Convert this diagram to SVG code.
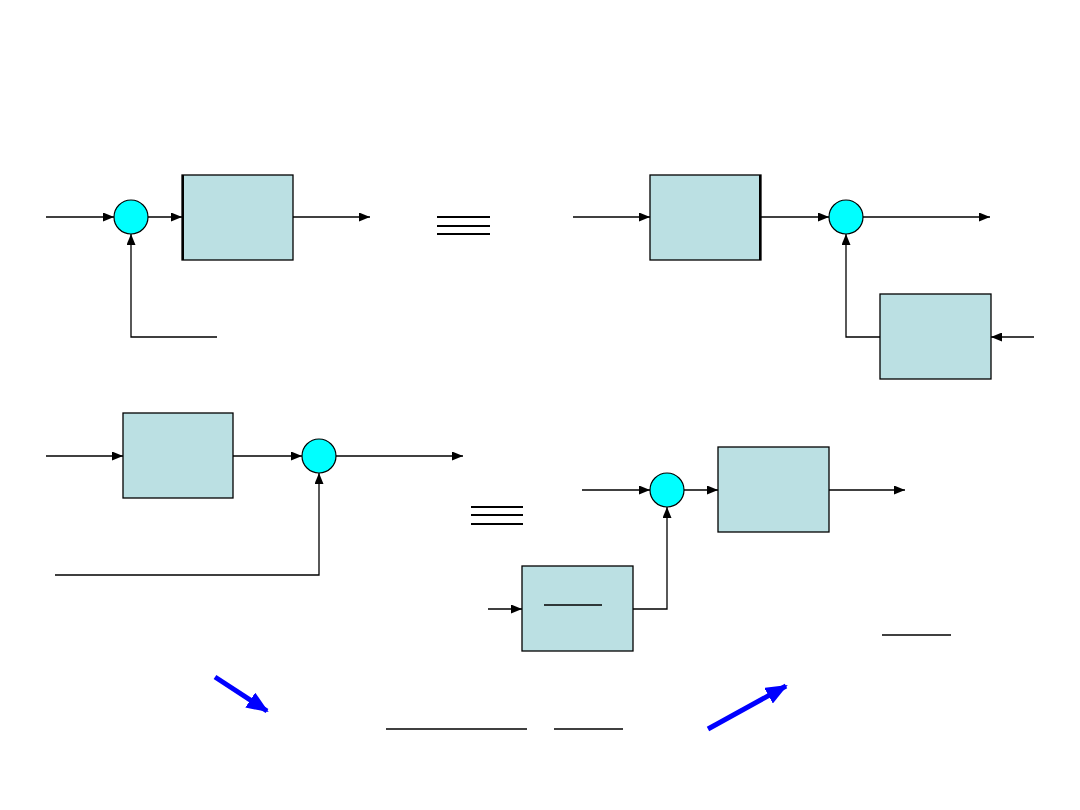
<svg xmlns="http://www.w3.org/2000/svg" width="1080" height="810" viewBox="0 0 1080 810">
<style>
.box{fill:#BBE0E3;stroke:#000;stroke-width:1.3}
.sum{fill:#00FFFF;stroke:#000;stroke-width:1.2}
.w{fill:none;stroke:#000;stroke-width:1.3}
.eq{stroke:#000;stroke-width:2}
.frac{stroke:#000;stroke-width:1.5}
.blue{fill:none;stroke:#0000FF;stroke-width:5}
</style>
<defs>
<marker id="ah" markerUnits="userSpaceOnUse" markerWidth="11" markerHeight="9" refX="11" refY="4.5" orient="auto">
<path d="M0,0 L11,4.5 L0,9 Z" fill="#000"/>
</marker>
<marker id="bh" markerUnits="userSpaceOnUse" markerWidth="22" markerHeight="18" refX="20" refY="9" orient="auto">
<path d="M0,0 L22,9 L0,18 Z" fill="#0000FF"/>
</marker>
</defs>
<rect width="1080" height="810" fill="#fff"/>
<g id="connectors">
<line class="w" x1="46" y1="217" x2="114" y2="217" marker-end="url(#ah)"/>
<line class="w" x1="148" y1="217" x2="182" y2="217" marker-end="url(#ah)"/>
<line class="w" x1="293" y1="217" x2="370" y2="217" marker-end="url(#ah)"/>
<polyline class="w" points="217,337 131,337 131,234" stroke="#333" marker-end="url(#ah)"/>
<line class="w" x1="573" y1="217" x2="650" y2="217" marker-end="url(#ah)"/>
<line class="w" x1="761" y1="217" x2="829" y2="217" stroke="#333" marker-end="url(#ah)"/>
<line class="w" x1="863" y1="217" x2="990" y2="217" marker-end="url(#ah)"/>
<polyline class="w" points="880,337 846,337 846,234" stroke="#222" marker-end="url(#ah)"/>
<line class="w" x1="1034" y1="337" x2="991" y2="337" marker-end="url(#ah)"/>
<line class="w" x1="46" y1="456" x2="123" y2="456" marker-end="url(#ah)"/>
<line class="w" x1="233" y1="456" x2="302" y2="456" stroke="#333" marker-end="url(#ah)"/>
<line class="w" x1="336" y1="456" x2="463" y2="456" stroke-width="2" marker-end="url(#ah)"/>
<polyline class="w" points="55,575 319,575 319,473" stroke="#333" marker-end="url(#ah)"/>
<line class="w" x1="582" y1="490" x2="650" y2="490" stroke="#333" marker-end="url(#ah)"/>
<line class="w" x1="684" y1="490" x2="718" y2="490" marker-end="url(#ah)"/>
<line class="w" x1="829" y1="490" x2="905" y2="490" marker-end="url(#ah)"/>
<line class="w" x1="488" y1="609" x2="522" y2="609" marker-end="url(#ah)"/>
<polyline class="w" points="633,609 667,609 667,507" marker-end="url(#ah)"/>
</g>
<g id="sum1"><circle class="sum" cx="131" cy="217" r="17"/></g>
<g id="box1"><rect class="box" x="182" y="175" width="111" height="85"/><line x1="183" y1="175" x2="183" y2="260" stroke="#000" stroke-width="2"/></g>
<g id="equiv1">
<line class="eq" x1="437" y1="217" x2="490" y2="217"/>
<line class="eq" x1="437" y1="226" x2="490" y2="226" stroke-width="1.5"/>
<line class="eq" x1="437" y1="234" x2="490" y2="234"/>
</g>
<g id="box2"><rect class="box" x="650" y="175" width="111" height="85"/><line x1="760" y1="175" x2="760" y2="260" stroke="#000" stroke-width="2"/></g>
<g id="sum2"><circle class="sum" cx="846" cy="217" r="17"/></g>
<g id="box3"><rect class="box" x="880" y="294" width="111" height="85"/></g>
<g id="box4"><rect class="box" x="123" y="413" width="110" height="85"/></g>
<g id="sum3"><circle class="sum" cx="319" cy="456" r="17"/></g>
<g id="equiv2">
<line class="eq" x1="471" y1="507" x2="523" y2="507"/>
<line class="eq" x1="471" y1="515" x2="523" y2="515" stroke-width="1.5"/>
<line class="eq" x1="471" y1="524" x2="523" y2="524"/>
</g>
<g id="sum4"><circle class="sum" cx="667" cy="490" r="17"/></g>
<g id="box5"><rect class="box" x="718" y="447" width="111" height="85"/></g>
<g id="box6"><rect class="box" x="522" y="566" width="111" height="85"/>
<line class="frac" x1="544" y1="605" x2="602" y2="605"/></g>
<g id="fractions">
<line class="frac" x1="882" y1="635" x2="951" y2="635"/>
<line class="frac" x1="386" y1="729" x2="527" y2="729"/>
<line class="frac" x1="554" y1="729" x2="623" y2="729"/>
</g>
<g id="blue-arrows">
<line class="blue" x1="215" y1="677" x2="267" y2="711" marker-end="url(#bh)"/>
<line class="blue" x1="708" y1="729" x2="786" y2="686" marker-end="url(#bh)"/>
</g>
</svg>
